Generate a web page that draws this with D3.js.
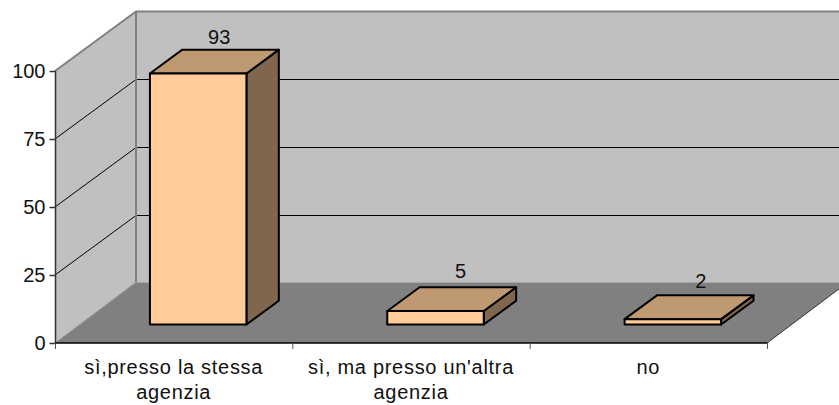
<!DOCTYPE html>
<html>
<head>
<meta charset="utf-8">
<script src="https://cdn.jsdelivr.net/npm/d3@7"></script>
<style>
  html, body { margin: 0; padding: 0; background: #fff; }
  svg { display: block; font-family: "Liberation Sans", Arial, sans-serif; }
</style>
</head>
<body>
<svg id="chart" width="839" height="405"></svg>
<script>
const categories = [["sì,presso la stessa", "agenzia"], ["sì, ma presso un'altra", "agenzia"], ["no"]];
const values = [93, 5, 2];
const yTicks = [0, 25, 50, 75, 100];

const svg = d3.select('#chart');

// front plane of the 3d box
const xScale = d3.scaleBand().domain(d3.range(categories.length)).range([55, 767]);
const xEdges = d3.scaleLinear().domain([0, categories.length]).range([55, 767]);
const yScale = d3.scaleLinear().domain([0, 100]).range([343, 71]);
const yBar = d3.scaleLinear().domain([0, 100]).range([343, 73]);   // bars run a bit short of the ticks

// depth goes up and to the right, 0 is front, 1 is the back wall
const depthX = d3.scaleLinear().domain([0, 1]).range([0, 81]);
const depthY = d3.scaleLinear().domain([0, 1]).range([0, -59.5]);

const pt = (x, v, d, y = yScale) => [x + depthX(d), y(v) + depthY(d)];
const poly = pts => 'M' + pts.map(p => p.join(',')).join('L') + 'Z';

const x0 = 55, x1 = 767;
const floorBack = 0.5;   // floor meets the back wall slightly above the 0 line

// floor
svg.append('path')
    .attr('d', poly([pt(x0, 0, 0), pt(x1, 0, 0), pt(x1, floorBack, 1), pt(x0, floorBack, 1)]))
    .attr('fill', '#808080');

// back wall
svg.append('path')
    .attr('d', poly([pt(x0, floorBack, 1), pt(x1, floorBack, 1), pt(x1, 100, 1), pt(x0, 100, 1)]))
    .attr('fill', '#c0c0c0');

// side wall
svg.append('path')
    .attr('d', poly([pt(x0, 0, 0), pt(x0, floorBack, 1), pt(x0, 100, 1), pt(x0, 100, 0)]))
    .attr('fill', '#c0c0c0');

// grid lines, side wall then back wall
const grid = svg.append('g').attr('fill', 'none').attr('stroke', '#000').attr('stroke-width', 1);
yTicks.filter(t => t > 0 && t < 100).forEach(t => {
    grid.append('path')
        .attr('d', d3.line()([pt(x0, t, 0), pt(x0, t, 1), pt(x1, t, 1)]));
});

// wall edges
svg.append('path')
    .attr('d', d3.line()([pt(x0, 100, 0), pt(x0, 100, 1), pt(x1, 100, 1)]))
    .attr('fill', 'none').attr('stroke', '#808080').attr('stroke-width', 2);
svg.append('path')
    .attr('d', d3.line()([pt(x0, floorBack, 1), pt(x0, 100, 1)]))
    .attr('fill', 'none').attr('stroke', '#808080').attr('stroke-width', 2);
svg.append('path')
    .attr('d', d3.line()([pt(x0, 0, 0), pt(x0, floorBack, 1)]))
    .attr('fill', 'none').attr('stroke', '#999').attr('stroke-width', 1);
svg.append('path')
    .attr('d', d3.line()([pt(x1, 0, 0), pt(x1, floorBack, 1)]))
    .attr('fill', 'none').attr('stroke', '#333').attr('stroke-width', 1);

// bars
const barW = 96.5;
const dFront = 0.31, dBack = 0.71;
const bars = svg.append('g')
    .attr('stroke', '#000').attr('stroke-width', 2).attr('stroke-linejoin', 'round');

// the value labels don't sit quite centered on the bar tops
const labelNudge = [[5, -0.5], [9, -6], [12, -4]];

values.forEach((v, i) => {
    const l = xScale(i) + xScale.bandwidth() / 2 - barW / 2 - 0.6;
    const r = l + barW;
    bars.append('path') // side
        .attr('fill', '#7f664c')
        .attr('d', poly([pt(r, 0, dFront, yBar), pt(r, 0, dBack, yBar), pt(r, v, dBack, yBar), pt(r, v, dFront, yBar)]));
    bars.append('path') // top
        .attr('fill', '#bf9972')
        .attr('d', poly([pt(l, v, dFront, yBar), pt(r, v, dFront, yBar), pt(r, v, dBack, yBar), pt(l, v, dBack, yBar)]));
    bars.append('path') // front
        .attr('fill', '#ffcc99')
        .attr('d', poly([pt(l, 0, dFront, yBar), pt(r, 0, dFront, yBar), pt(r, v, dFront, yBar), pt(l, v, dFront, yBar)]));

    const top = pt(xScale(i) + xScale.bandwidth() / 2, v, 0.5);
    svg.append('text')
        .attr('x', top[0] + labelNudge[i][0])
        .attr('y', top[1] - 16 + labelNudge[i][1])
        .attr('text-anchor', 'middle')
        .attr('font-size', 20)
        .attr('fill', '#111')
        .text(v);
});

// axes
const yAxis = d3.axisLeft(yScale).tickValues(yTicks).tickSize(6).tickPadding(4);
const gy = svg.append('g').attr('transform', 'translate(55.5,0)').call(yAxis);
gy.selectAll('text').attr('font-size', 20).attr('font-family', null).attr('fill', '#111');
gy.select('.domain').attr('d', d3.line()([[0, yScale(100)], [0, yScale(0)]]));
gy.selectAll('line, path').attr('stroke', '#333').attr('stroke-width', 1.5);

const xAxis = d3.axisBottom(xEdges).tickValues(d3.range(categories.length + 1)).tickSize(6).tickFormat('');
const gx = svg.append('g').attr('transform', 'translate(0,343)').call(xAxis);
gx.select('.domain').attr('d', d3.line()([[x0, 0], [x1, 0]])).attr('stroke', '#000').attr('stroke-width', 1.5);
gx.selectAll('line').attr('stroke', '#555').attr('stroke-width', 1);

// category labels
categories.forEach((lines, i) => {
    const t = svg.append('text')
        .attr('text-anchor', 'middle')
        .attr('font-size', 20)
        .attr('letter-spacing', 0.7)
        .attr('fill', '#111');
    lines.forEach((s, j) => {
        t.append('tspan')
            .attr('x', xScale(i) + xScale.bandwidth() / 2)
            .attr('y', 374 + j * 25)
            .text(s);
    });
});
</script>
</body>
</html>
